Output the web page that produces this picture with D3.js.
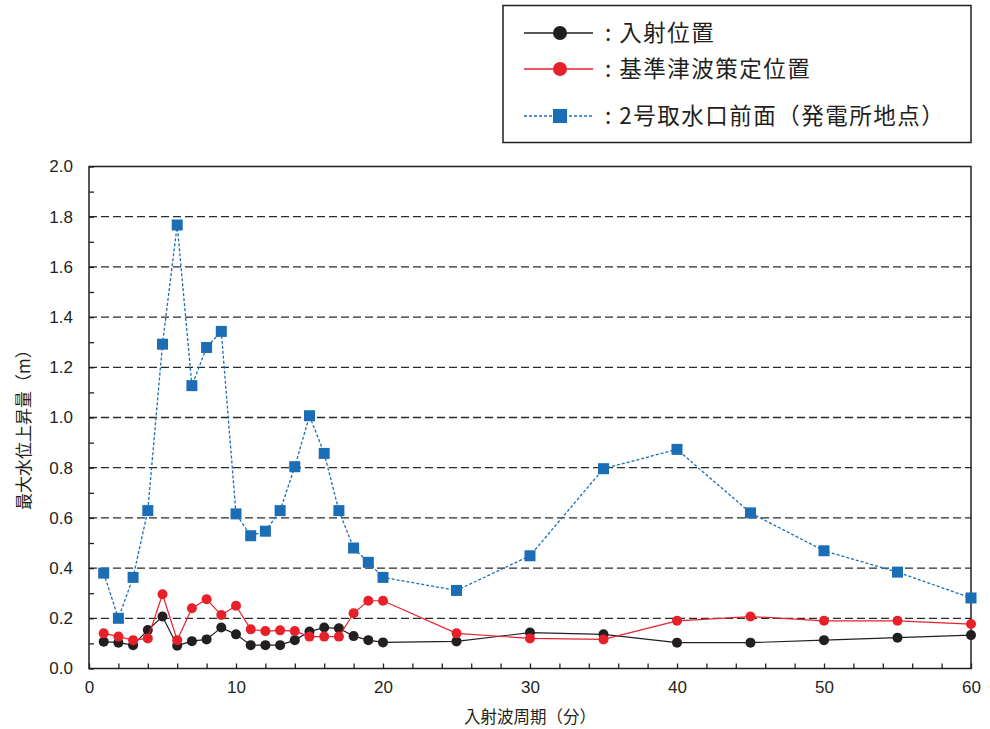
<!DOCTYPE html>
<html><head><meta charset="utf-8">
<script src="https://cdn.jsdelivr.net/npm/d3@7"></script>
<style>
body{margin:0;background:#fff;}
text{font-family:"Liberation Sans","Noto Sans CJK JP",sans-serif;}
.jp{font-family:"Noto Sans CJK JP",sans-serif;}
</style></head>
<body><svg id="c" width="990" height="729"></svg>
<script>
const periods = [1,2,3,4,5,6,7,8,9,10,11,12,13,14,15,16,17,18,19,20,25,30,35,40,45,50,55,60];
const incident = [0.107,0.103,0.093,0.153,0.207,0.091,0.109,0.116,0.163,0.136,0.093,0.093,0.093,0.113,0.147,0.163,0.16,0.129,0.113,0.104,0.108,0.143,0.136,0.103,0.103,0.113,0.123,0.133];
const standard = [0.14,0.127,0.113,0.12,0.296,0.113,0.24,0.276,0.213,0.25,0.156,0.149,0.152,0.149,0.127,0.127,0.127,0.22,0.27,0.27,0.14,0.12,0.116,0.19,0.207,0.19,0.19,0.177];
const intake = [0.38,0.2,0.363,0.629,1.292,1.767,1.127,1.279,1.343,0.616,0.529,0.547,0.629,0.804,1.007,0.857,0.629,0.48,0.423,0.363,0.311,0.449,0.796,0.873,0.62,0.469,0.384,0.281];
const seriesNames = [": 入射位置", ": 基準津波策定位置", ": 2号取水口前面（発電所地点）"];
const xTickLabels = [0,10,20,30,40,50,60];
const yTickLabels = [0.0,0.2,0.4,0.6,0.8,1.0,1.2,1.4,1.6,1.8,2.0];
const xTitle = "入射波周期（分）";
const yTitle = "最大水位上昇量（m）";

const svg = d3.select("#c");
const L=89, R=971, T=166.5, B=668.5;
const x = d3.scaleLinear().domain([0,60]).range([L,R]);
const y = d3.scaleLinear().domain([0,2]).range([B,T]);

// gridlines
svg.append("g").selectAll("line").data(yTickLabels.filter(v=>v>0&&v<2)).join("line")
  .attr("x1",L).attr("x2",R).attr("y1",d=>y(d)).attr("y2",d=>y(d))
  .attr("stroke","#2a2a2a").attr("stroke-width",1.3).attr("stroke-dasharray","8,4");

// frame
svg.append("rect").attr("x",L).attr("y",T).attr("width",R-L).attr("height",B-T)
  .attr("fill","none").attr("stroke","#231f20").attr("stroke-width",1.5);

// axes with inward ticks
const xAxis = d3.axisBottom(x).tickValues(d3.range(0,61,2)).tickSize(-5).tickPadding(12)
  .tickFormat(d=> xTickLabels.includes(d)? d : "");
const gx = svg.append("g").attr("transform",`translate(0,${B})`).call(xAxis);
const yAxis = d3.axisLeft(y).tickValues(d3.range(0,21).map(i=>i/10)).tickSize(-5).tickPadding(16)
  .tickFormat(d=> { const v=Math.round(d*10); return v%2===0 ? d3.format(".1f")(d) : ""; });
const gy = svg.append("g").attr("transform",`translate(${L},0)`).call(yAxis);
[gx,gy].forEach(g=>{
  g.select(".domain").remove();
  g.selectAll(".tick line").attr("stroke","#231f20").attr("stroke-width",1.3);
  g.selectAll(".tick text").attr("font-size",17).attr("fill","#231f20")
   .attr("font-family","Liberation Sans, sans-serif");
});

// titles
svg.append("text").attr("class","jp").attr("x",(L+R)/2).attr("y",723).attr("text-anchor","middle")
  .attr("font-size",16.5).attr("fill","#231f20").text(xTitle);
svg.append("text").attr("class","jp").attr("transform",`translate(30,${(T+B)/2+8}) rotate(-90)`)
  .attr("text-anchor","middle").attr("font-size",17).attr("fill","#231f20").text(yTitle);

const line = d3.line().x(d=>x(d[0])).y(d=>y(d[1]));
const zip = vals => periods.map((p,i)=>[p,vals[i]]);

function drawSeries(vals,color,dash,shape){
  const g = svg.append("g");
  g.append("path").datum(zip(vals)).attr("d",line).attr("fill","none")
   .attr("stroke",color).attr("stroke-width",dash?1.3:1.2).attr("stroke-dasharray",dash||null);
  if(shape==="circle"){
    g.selectAll("circle").data(zip(vals)).join("circle")
     .attr("cx",d=>x(d[0])).attr("cy",d=>y(d[1])).attr("r",5).attr("fill",color);
  } else {
    g.selectAll("rect").data(zip(vals)).join("rect")
     .attr("x",d=>x(d[0])-5.5).attr("y",d=>y(d[1])-5.5).attr("width",11).attr("height",11).attr("fill",color);
  }
}
drawSeries(incident,"#231f20",null,"circle");
drawSeries(standard,"#e8202a",null,"circle");
drawSeries(intake,"#1b6db6","3,2","square");

// legend
const lg = svg.append("g");
lg.append("rect").attr("x",503).attr("y",5.5).attr("width",468).attr("height",137)
  .attr("fill","#fff").attr("stroke","#231f20").attr("stroke-width",1.5);
const rows = [
  {y:33,color:"#231f20",dash:null,shape:"circle",name:seriesNames[0]},
  {y:69,color:"#e8202a",dash:null,shape:"circle",name:seriesNames[1]},
  {y:116,color:"#1b6db6",dash:"3,2",shape:"square",name:seriesNames[2]}
];
rows.forEach(r=>{
  lg.append("line").attr("x1",524).attr("x2",593).attr("y1",r.y).attr("y2",r.y)
    .attr("stroke",r.color).attr("stroke-width",1.3).attr("stroke-dasharray",r.dash);
  if(r.shape==="circle") lg.append("circle").attr("cx",560).attr("cy",r.y).attr("r",7).attr("fill",r.color);
  else lg.append("rect").attr("x",553).attr("y",r.y-7).attr("width",14).attr("height",14).attr("fill",r.color);
  lg.append("text").attr("class","jp").attr("x",605).attr("y",r.y).attr("dy","0.36em")
    .attr("font-size",22.5).attr("letter-spacing",1.5).attr("fill","#231f20").text(r.name);
});
</script></body></html>
